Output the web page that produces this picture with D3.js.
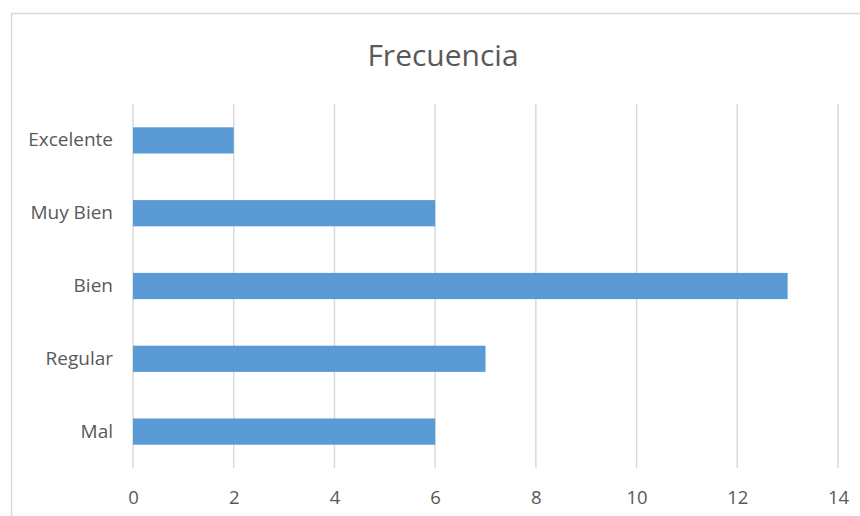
<!DOCTYPE html>
<html>
<head>
<meta charset="utf-8">
<script src="https://cdn.jsdelivr.net/npm/d3@7"></script>
<style>
  body { margin: 0; background: #fff; }
  svg text { font-family: "Open Sans", sans-serif; fill: #595959; }
</style>
</head>
<body>
<script>
// chart data
var categories = ["Excelente", "Muy Bien", "Bien", "Regular", "Mal"];
var values = [2, 6, 13, 7, 6];
var xTicks = [0, 2, 4, 6, 8, 10, 12, 14];
var title = "Frecuencia";

var W = 860, H = 516;
var margin = {top: 104, right: 22, bottom: 48, left: 133},
    width = 838 - margin.left,
    height = 468 - margin.top;

var svg = d3.select("body").append("svg")
    .attr("width", W)
    .attr("height", H);

// outer chart border (runs off the right/bottom edge)
svg.append("rect")
    .attr("x", 11.5).attr("y", 13.5)
    .attr("width", 870).attr("height", 530)
    .attr("fill", "#fff")
    .attr("stroke", "#d9d9d9")
    .attr("stroke-width", 1.5);

svg.append("text")
    .attr("x", 443)
    .attr("y", 66)
    .attr("text-anchor", "middle")
    .style("font-size", "30px")
    .text(title);

var g = svg.append("g")
    .attr("transform", "translate(" + margin.left + "," + margin.top + ")");

var x = d3.scaleLinear().domain([0, 14]).range([0, width]);
var y = d3.scaleBand().domain(categories).range([0, height]).paddingInner(0.64).paddingOuter(0.32);

// gridlines
g.selectAll(".grid")
    .data(xTicks)
  .enter().append("line")
    .attr("class", "grid")
    .attr("x1", function(d) { return x(d); })
    .attr("x2", function(d) { return x(d); })
    .attr("y1", 0)
    .attr("y2", height)
    .attr("stroke", "#d9d9d9")
    .attr("stroke-width", 1.5);

// bars
g.selectAll(".bar")
    .data(values)
  .enter().append("rect")
    .attr("class", "bar")
    .attr("x", x(0))
    .attr("y", function(d, i) { return y(categories[i]); })
    .attr("width", function(d) { return x(d) - x(0); })
    .attr("height", y.bandwidth())
    .attr("fill", "#5b9bd5");

// x axis labels
var xAxis = d3.axisBottom(x).tickValues(xTicks).tickSize(0).tickPadding(23);
g.append("g")
    .attr("transform", "translate(0," + height + ")")
    .call(xAxis)
    .call(function(s) { s.select(".domain").remove(); })
    .selectAll("text")
    .style("font-size", "18.5px")
    .attr("fill", "#595959");

// y axis labels
var yAxis = d3.axisLeft(y).tickSize(0).tickPadding(20);
g.append("g")
    .call(yAxis)
    .call(function(s) { s.select(".domain").remove(); })
    .selectAll("text")
    .style("font-size", "19px")
    .attr("fill", "#595959");
</script>
</body>
</html>
